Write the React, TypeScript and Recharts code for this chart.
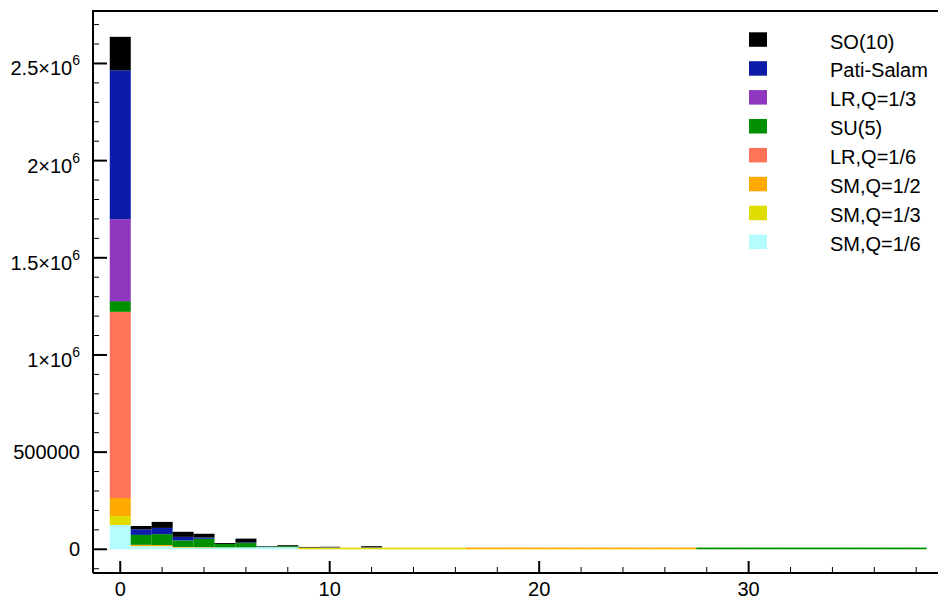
import React from "react";
import { BarChart, Bar, XAxis, YAxis } from "recharts";

// histogram bins (bin centres, width 1)
const bins = [
  0, 1, 2, 3, 4, 5, 6, 7, 8, 9, 10, 11, 12, 13, 14, 15, 16, 17, 18, 19, 20,
  21, 22, 23, 24, 25, 26, 27, 28, 29, 30, 31, 32, 33, 34, 35, 36, 37, 38,
];

// counts per bin
const smQ16 = [
  125000, 16000, 16000, 9000, 9000, 10000, 10000, 11000, 11000, 0, 0, 0, 0, 0,
  0, 0, 0, 0, 0, 0, 0, 0, 0, 0, 0, 0, 0, 0, 0, 0, 0, 0, 0, 0, 0, 0, 0, 0, 0,
];
const smQ13 = [
  46000, 0, 0, 0, 0, 0, 0, 0, 0, 9000, 9000, 9000, 9000, 9000, 9000, 9000,
  9000, 0, 0, 0, 0, 0, 0, 0, 0, 0, 0, 0, 0, 0, 0, 0, 0, 0, 0, 0, 0, 0, 0,
];
const smQ12 = [
  93000, 7000, 6000, 3000, 2000, 0, 0, 0, 0, 0, 0, 0, 0, 0, 0, 0, 0, 9000,
  9000, 9000, 9000, 9000, 9000, 9000, 9000, 9000, 9000, 9000, 0, 0, 0, 0, 0, 0,
  0, 0, 0, 0, 0,
];
const lrQ16 = [
  958000, 0, 0, 0, 0, 0, 0, 0, 0, 0, 0, 0, 0, 0, 0, 0, 0, 0, 0, 0, 0, 0, 0, 0,
  0, 0, 0, 0, 0, 0, 0, 0, 0, 0, 0, 0, 0, 0, 0,
];
const su5 = [
  55000, 51000, 56000, 34000, 43000, 17000, 22000, 3000, 5000, 0, 0, 0, 0, 0, 0,
  0, 0, 0, 0, 0, 0, 0, 0, 0, 0, 0, 0, 0, 9000, 9000, 9000, 9000, 9000, 9000,
  9000, 9000, 9000, 9000, 9000,
];
const lrQ13 = [
  422000, 0, 0, 0, 0, 0, 0, 0, 0, 0, 0, 0, 0, 0, 0, 0, 0, 0, 0, 0, 0, 0, 0, 0,
  0, 0, 0, 0, 0, 0, 0, 0, 0, 0, 0, 0, 0, 0, 0,
];
const patiSalam = [
  766000, 29000, 32000, 18000, 7000, 0, 3000, 1000, 0, 0, 2000, 0, 2000, 0, 0,
  0, 0, 0, 0, 0, 0, 0, 0, 0, 0, 0, 0, 0, 0, 0, 0, 0, 0, 0, 0, 0, 0, 0, 0,
];
const so10 = [
  172000, 17000, 31000, 26000, 19000, 5000, 20000, 2000, 5000, 3000, 2000, 0,
  5000, 0, 0, 0, 0, 0, 0, 0, 0, 0, 0, 0, 0, 0, 0, 0, 0, 0, 0, 0, 0, 0, 0, 0, 0,
  0, 0,
];

const xTicks = [
  0, 2, 4, 6, 8, 10, 12, 14, 16, 18, 20, 22, 24, 26, 28, 30, 32, 34, 36, 38,
];
const yTicks = [
  -100000, 0, 100000, 200000, 300000, 400000, 500000, 600000, 700000, 800000,
  900000, 1000000, 1100000, 1200000, 1300000, 1400000, 1500000, 1600000,
  1700000, 1800000, 1900000, 2000000, 2100000, 2200000, 2300000, 2400000,
  2500000, 2600000, 2700000,
];
const yLabels: Record<number, [string, string]> = {
  0: ["0", ""],
  500000: ["500000", ""],
  1000000: ["1\u00d710", "6"],
  1500000: ["1.5\u00d710", "6"],
  2000000: ["2\u00d710", "6"],
  2500000: ["2.5\u00d710", "6"],
};

// stacking order, bottom first
const series = [
  { key: "smQ16", name: "SM,Q=1/6", color: "#b5fcff" },
  { key: "smQ13", name: "SM,Q=1/3", color: "#e0dc00" },
  { key: "smQ12", name: "SM,Q=1/2", color: "#ffaa00" },
  { key: "lrQ16", name: "LR,Q=1/6", color: "#ff7358" },
  { key: "su5", name: "SU(5)", color: "#009000" },
  { key: "lrQ13", name: "LR,Q=1/3", color: "#8f37bf" },
  { key: "patiSalam", name: "Pati-Salam", color: "#0d1ca8" },
  { key: "so10", name: "SO(10)", color: "#000000" },
];

const data = bins.map((b, i) => ({
  bin: b,
  smQ16: smQ16[i],
  smQ13: smQ13[i],
  smQ12: smQ12[i],
  lrQ16: lrQ16[i],
  su5: su5[i],
  lrQ13: lrQ13[i],
  patiSalam: patiSalam[i],
  so10: so10[i],
}));

const FONT = "'Liberation Sans', Arial, Helvetica, sans-serif";

const XTick = (props: any) => {
  const { x, y, payload } = props;
  const major = payload.value % 10 === 0;
  return (
    <g>
      <line
        x1={x}
        x2={x}
        y1={y}
        y2={y - (major ? 12 : 6)}
        stroke="#000"
        strokeWidth={major ? 2 : 1}
      />
      {major && (
        <text x={x} y={y + 23} textAnchor="middle" fontSize={20} fontFamily={FONT} fill="#000">
          {payload.value}
        </text>
      )}
    </g>
  );
};

const YTick = (props: any) => {
  const { x, y, payload } = props;
  const lab = yLabels[payload.value];
  const major = !!lab;
  return (
    <g>
      <line
        x1={x}
        x2={x + (major ? 14 : 6)}
        y1={y}
        y2={y}
        stroke="#000"
        strokeWidth={major ? 2 : 1}
      />
      {lab && (
        <text x={80} y={lab[1] ? y + 12 : y + 7} textAnchor="end" fontSize={20} fontFamily={FONT} fill="#000">
          {lab[0]}
          {lab[1] && (
            <tspan fontSize={14} dy={-10}>
              {lab[1]}
            </tspan>
          )}
        </text>
      )}
    </g>
  );
};

const legendRows = [...series].reverse();

export default function App() {
  return (
    <div style={{ position: "absolute", left: 0, top: 0, width: 938, height: 607, background: "#fff", overflow: "hidden" }}>
      <BarChart
        width={938}
        height={607}
        data={data}
        margin={{ top: 11, right: 0, bottom: 0, left: 0 }}
        barCategoryGap={0}
        barGap={0}
      >
        <XAxis
          dataKey="bin"
          type="number"
          domain={[-1.3, 39.04]}
          allowDataOverflow
          ticks={xTicks}
          interval={0}
          height={34}
          tickSize={0}
          tickMargin={0}
          tickLine={false}
          tick={<XTick />}
          axisLine={{ stroke: "#000", strokeWidth: 2 }}
        />
        <YAxis
          type="number"
          domain={[-122000, 2770000]}
          allowDataOverflow
          ticks={yTicks}
          interval={0}
          width={93}
          tickSize={0}
          tickMargin={0}
          tickLine={false}
          tick={<YTick />}
          axisLine={{ stroke: "#000", strokeWidth: 2 }}
        />
        {series.map((s) => (
          <Bar
            key={s.key}
            dataKey={s.key}
            name={s.name}
            stackId="a"
            fill={s.color}
            isAnimationActive={false}
          />
        ))}
      </BarChart>
      {/* top edge of the frame */}
      <div style={{ position: "absolute", left: 92, top: 10, width: 846, height: 2, background: "#000" }} />
      <svg
        width={189}
        height={240}
        style={{ position: "absolute", left: 749, top: 25 }}
      >
        {legendRows.map((s, i) => (
          <g key={s.key}>
            <rect x={0} y={7.3 + 28.9 * i} width={18} height={14.5} fill={s.color} />
            <text x={81} y={23.5 + 28.9 * i} fontSize={20} fontFamily={FONT} fill="#000">
              {s.name}
            </text>
          </g>
        ))}
      </svg>
    </div>
  );
}
